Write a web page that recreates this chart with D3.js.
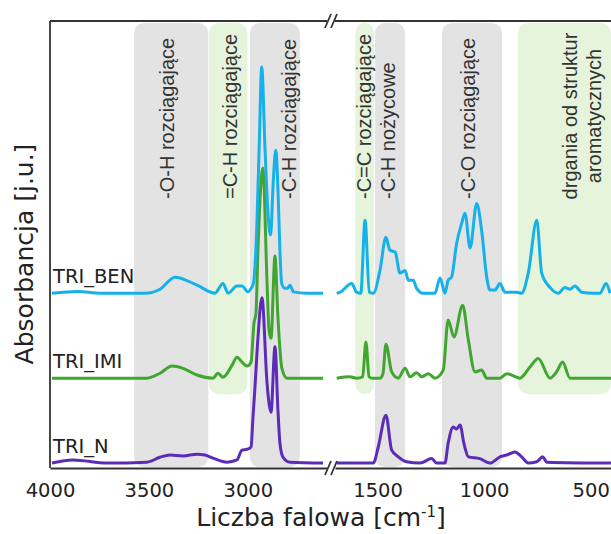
<!DOCTYPE html>
<html>
<head>
<meta charset="utf-8">
<script src="https://cdn.jsdelivr.net/npm/d3@7"></script>
<style>
  body { margin: 0; background: #fff; }
  svg { display: block; }
  .axis text { font-family: "DejaVu Sans", Verdana, sans-serif; font-size: 19.5px; fill: #222; }
  .band-label { font-family: "Liberation Sans", Arial, sans-serif; font-size: 20px; fill: #333; }
  .series-label { font-family: "DejaVu Sans", Verdana, sans-serif; font-size: 19.5px; fill: #222; }
  .title { font-family: "DejaVu Sans", Verdana, sans-serif; font-size: 25px; fill: #222; }
</style>
</head>
<body>
<svg id="chart" width="611" height="534"></svg>
<script>
// wavenumber [cm-1], absorbance above the series baseline [j.u.]
var triBenLeft = [[3990,0],[3858,0.4],[3747,0],[3520,0],[3444,0.9],[3368,3.6],[3257,1.8],[3166,0],[3126,2.2],[3100,0],[3055,1.6],[3030,1.6],[2999,0.3],[2985,1.0],[2972,2.2],[2955,14.5],[2942,34],[2930,50.6],[2913,32],[2897,17],[2885,13],[2872,24.6],[2859,32],[2846,20.8],[2838,9.6],[2829,2.2],[2813,1.1],[2800,1.1],[2787,1.8],[2770,0.3],[2700,0],[2620,0]];
var triBenRight = [[1692,0],[1677,0.2],[1622,2.2],[1598,0.2],[1579,0],[1559,16.3],[1539,0.2],[1520,0],[1489,5.1],[1461,12.5],[1442,9.6],[1418,9.2],[1395,4.5],[1371,5.1],[1356,2.9],[1333,2.9],[1317,1.1],[1286,0],[1231,0],[1207,3.4],[1184,0],[1169,2.9],[1153,3.6],[1129,11.2],[1105,15.7],[1090,17.9],[1066,10.1],[1035,20.1],[1012,14.1],[988,3.6],[973,0.7],[949,0.7],[926,2.2],[902,0.2],[847,0.2],[824,0],[793,4.5],[753,16.3],[730,4.5],[691,1.3],[652,0],[621,1.3],[597,0.9],[574,1.6],[542,0.2],[488,0],[456,0],[428,2.2],[409,0]];

var triImiLeft = [[3990,0],[3510,0],[3444,1.1],[3383,2.7],[3328,2.2],[3257,0.7],[3176,0],[3151,1.1],[3126,0.2],[3080,2.9],[3055,4.7],[3030,3.6],[3004,2.7],[2984,3.6],[2969,12.3],[2959,14.5],[2949,28.6],[2924,47.0],[2903,21.3],[2893,10.7],[2883,8.9],[2863,27.3],[2848,13.6],[2828,2.2],[2802,0],[2620,0]];
var triImiRight = [[1692,0],[1630,0.3],[1598,0],[1570,0.3],[1555,8.1],[1540,0.3],[1528,0],[1489,0],[1475,1],[1461,7.6],[1434,1.4],[1403,0],[1371,2.2],[1348,0.3],[1317,1.2],[1293,0.3],[1262,1.0],[1231,0],[1192,1.8],[1169,13.0],[1142,9.2],[1101,16.3],[1074,8.5],[1043,1.4],[1012,1.8],[988,0],[926,0],[894,1.0],[832,0],[785,2.5],[746,4.4],[691,0],[660,1.4],[632,3.6],[597,0],[405,0]];

var triNLeft = [[3990,0],[3884,0.7],[3712,0],[3510,0.2],[3444,1.3],[3394,1.8],[3328,1.6],[3257,2.0],[3217,1.8],[3176,1.1],[3105,0.2],[3055,0.7],[3030,2.9],[3004,3.1],[2984,3.6],[2974,10.3],[2964,17.0],[2949,28],[2929,37],[2903,17.9],[2893,13.4],[2883,11.4],[2863,26.0],[2848,11.9],[2838,4.5],[2822,1.3],[2787,0.2],[2620,0]];
var triNRight = [[1692,0],[1520,0],[1497,3.6],[1461,10.7],[1434,2.9],[1403,1.4],[1364,0.3],[1301,0],[1246,1.0],[1223,0],[1184,0],[1169,4.4],[1145,8.1],[1130,7.6],[1113,8.5],[1095,4.4],[1074,1.4],[1020,1.0],[973,0],[926,1.4],[894,1.8],[855,2.5],[824,1.4],[793,0],[753,0.3],[725,1.4],[706,0.2],[405,0]];

var seriesNames = ["TRI_N", "TRI_IMI", "TRI_BEN"];
var seriesOffsets = [1.1, 20.1, 39.1];
var seriesColors = ["#5b2cb8", "#41a630", "#14b1ea"];

var bandRanges = [[3575,3200],[3197,3002],[2990,2737],[1605,1517],[1512,1371],[1198,916],[841,405]];
var bandKinds = ["gray","green","gray","green","gray","gray","green"];
var bandLabels = [["-O-H rozciągające"],["=C-H rozciągające"],["-C-H rozciągające"],["-C=C rozciągające"],["-C-H nożycowe"],["-C-O rozciągające"],["drgania od struktur","aromatycznych"]];
var bandLabelWn = [3409, 3090, 2792, 1564, 1451, 1076, 541];

var ticksLeft = [4000, 3500, 3000];
var ticksRight = [1500, 1000, 500];

var svg = d3.select("#chart");

var xLeft = d3.scaleLinear().domain([4000, 2600]).range([50, 327]);
var xRight = d3.scaleLinear().domain([1700, 400]).range([335, 612]);
var y = d3.scaleLinear().domain([0, 100]).range([468, 21]);

function xPos(w) { return w >= 2600 ? xLeft(w) : xRight(w); }

// BANDS

var gBands = svg.append("g");
bandRanges.forEach(function(r, i) {
  var x0 = xPos(r[0]), x1 = xPos(r[1]);
  var top = y(100) + 2;
  var bottom = bandKinds[i] === "gray" ? y(0.2) : y(16.5);
  gBands.append("rect")
    .attr("x", x0).attr("y", top)
    .attr("width", x1 - x0).attr("height", bottom - top)
    .attr("rx", 10).attr("ry", 10)
    .attr("fill", bandKinds[i] === "gray" ? "#e3e3e3" : "#e5f4db");
});

bandLabels.forEach(function(lines, i) {
  var x = xPos(bandLabelWn[i]);
  var t = svg.append("text").attr("class", "band-label");
  if (lines.length === 1) {
    t.attr("transform", "translate(" + x + ",199) rotate(-90)")
      .attr("text-anchor", "start")
      .attr("dy", "0.35em")
      .text(lines[0]);
  } else {
    t.attr("transform", "translate(" + x + ",116) rotate(-90)")
      .attr("text-anchor", "middle");
    lines.forEach(function(s, j) {
      t.append("tspan").attr("x", 0)
        .attr("y", (j - (lines.length - 1) / 2) * 24)
        .attr("dy", "0.35em")
        .text(s);
    });
  }
});

// SPECTRA

var segments = [[triNLeft, triNRight], [triImiLeft, triImiRight], [triBenLeft, triBenRight]];
var gLines = svg.append("g");
segments.forEach(function(seg, i) {
  var off = seriesOffsets[i];
  [[seg[0], xLeft], [seg[1], xRight]].forEach(function(p) {
    var line = d3.line()
      .x(function(d) { return p[1](d[0]); })
      .y(function(d) { return y(d[1] + off); })
      .curve(d3.curveMonotoneX);
    gLines.append("path")
      .datum(p[0])
      .attr("d", line)
      .attr("fill", "none")
      .attr("stroke", seriesColors[i])
      .attr("stroke-width", 3)
      .attr("stroke-linejoin", "round");
  });
  svg.append("text")
    .attr("class", "series-label")
    .attr("x", 53)
    .attr("y", y(off) - 10)
    .text(seriesNames[i]);
});

// AXES

var fmt = d3.format("d");
var axLeft = svg.append("g").attr("class", "axis")
  .attr("transform", "translate(0," + y(0) + ")")
  .call(d3.axisBottom(xLeft).tickValues(ticksLeft).tickSize(0).tickPadding(15).tickFormat(fmt));
var axRight = svg.append("g").attr("class", "axis")
  .attr("transform", "translate(0," + y(0) + ")")
  .call(d3.axisBottom(xRight).tickValues(ticksRight).tickSize(0).tickPadding(15).tickFormat(fmt));
svg.selectAll(".axis .domain").attr("stroke", "#333").attr("stroke-width", 1.8);

var frame = svg.append("g").attr("stroke", "#333").attr("stroke-width", 1.8);
frame.append("line").attr("x1", 50).attr("x2", 50).attr("y1", y(100)).attr("y2", y(0));
frame.append("line").attr("x1", 50).attr("x2", xLeft.range()[1]).attr("y1", y(100)).attr("y2", y(100));
frame.append("line").attr("x1", xRight.range()[0]).attr("x2", xRight.range()[1]).attr("y1", y(100)).attr("y2", y(100));

// axis break marks
var xb = (xLeft.range()[1] + xRight.range()[0]) / 2;
[y(100), y(0)].forEach(function(yy) {
  [-3, 3].forEach(function(dx) {
    frame.append("line")
      .attr("x1", xb + dx - 3).attr("y1", yy + 7)
      .attr("x2", xb + dx + 3).attr("y2", yy - 7);
  });
});

// TITLES

var xt = svg.append("text").attr("class", "title")
  .attr("x", 321).attr("y", 526).attr("text-anchor", "middle");
xt.append("tspan").text("Liczba falowa [cm");
xt.append("tspan").attr("dy", -9).attr("font-size", "15px").text("-1");
xt.append("tspan").attr("dy", 9).text("]");

svg.append("text").attr("class", "title")
  .attr("transform", "translate(33,254) rotate(-90)")
  .attr("text-anchor", "middle")
  .text("Absorbancja [j.u.]");
</script>
</body>
</html>
